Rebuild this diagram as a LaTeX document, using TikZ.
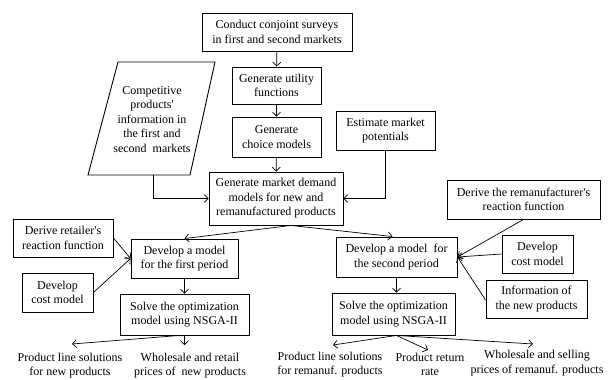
\documentclass[tikz,border=0pt]{standalone}
\usepackage{fontspec}
\setmainfont{Liberation Serif}[Ligatures=TeXOff]
\usetikzlibrary{arrows.meta,calc}
\begin{document}
\begin{tikzpicture}[x=1pt,y=-1pt,
  box/.style={draw,line width=0.9pt,inner sep=0pt,align=center,font=\fontsize{12}{14.5}\selectfont},
  txt/.style={inner sep=0pt,align=center,font=\fontsize{12}{14.5}\selectfont},
  arr/.style={line width=0.7pt,-{Straight Barb[length=4pt,width=8pt]}}]
\useasboundingbox (0,0) rectangle (611,380);
% nodes
\node[box,minimum width=150,minimum height=38] (conduct) at (277,32) {Conduct conjoint surveys\\in first and second markets};
\node[box,minimum width=89,minimum height=37] (utility) at (276.5,85.5) {Generate utility\\functions};
\node[box,minimum width=89,minimum height=40] (choice) at (276.5,137) {Generate\\choice models};
\draw[line width=0.9pt] (118,62) -- (215,62) -- (190,175) -- (88,175) -- cycle;
\coordinate (pb) at (153,175);
\node[txt] (comp) at (152,119.5) {Competitive\\products'\\information in\\the first and\\second~ markets};
\node[box,minimum width=99,minimum height=39] (estimate) at (385.5,130.5) {Estimate market\\potentials};
\node[box,minimum width=134,minimum height=53] (demand) at (276,198.5) {Generate market demand\\models for new and\\remanufactured products};
\node[box,minimum width=153,minimum height=39] (reman) at (523.5,199.5) {Derive the remanufacturer's\\reaction function};
\node[box,minimum width=100,minimum height=38] (retailer) at (63,238) {Derive retailer's\\reaction function};
\node[box,minimum width=71,minimum height=39] (costL) at (57.5,292.5) {Develop\\cost model};
\node[box,minimum width=107,minimum height=39] (first) at (184.5,258.5) {Develop a model\\for the first period};
\node[box,minimum width=129,minimum height=41] (solveA) at (184.5,314.5) {Solve the optimization\\model using NSGA-II};
\node[box,minimum width=121,minimum height=40] (second) at (396.5,257) {Develop a model~ for\\the second period};
\node[box,minimum width=123,minimum height=42] (solveB) at (393.5,314) {Solve the optimization\\model using NSGA-II};
\node[box,minimum width=71,minimum height=38] (costR) at (537.5,254) {Develop\\cost model};
\node[box,minimum width=101,minimum height=38] (info) at (536.5,299) {Information of\\the new products};
\node[txt] (o1) at (70,365.5) {Product line solutions\\for new products};
\node[txt] (o2) at (190,365.5) {Wholesale and retail\\prices of~ new products};
\node[txt] (o3) at (330,364.5) {Product line solutions\\for remanuf. products};
\node[txt] (o4) at (430,364.5) {Product return\\rate};
\node[txt] (o5) at (537,363) {Wholesale and selling\\prices of remanuf. products};
% arrow tips
\coordinate (t1) at (72,344);
\coordinate (t2) at (184.5,345);
\coordinate (t3) at (333,345);
\coordinate (t4) at (428,350);
\coordinate (t5) at (533,344);
\coordinate (ds) at ($(demand.south)+(15,0)$);
% connectors
\draw[arr] (conduct) -- (utility);
\draw[arr] (utility) -- (choice);
\draw[arr] (choice) -- (demand);
\draw[arr] (pb) |- (demand.west);
\draw[arr] (estimate.south) |- (demand.east);
\draw[arr] (ds) -- (first.north);
\draw[arr] (ds) -- ([xshift=-4]second.north);
\draw[arr] (retailer.east) -- (first.west);
\draw[arr] (costL.east) -- (first.west);
\draw[arr] (first) -- (solveA);
\draw[arr] ([xshift=-5]solveA.south) -- (t1);
\draw[arr] (solveA.south) -- (t2);
\draw[arr] (reman.south) -- (second.east);
\draw[arr] (costR.west) -- (second.east);
\draw[arr] ([yshift=-1]info.west) -- (second.east);
\draw[arr] (second.south) -- (second.south |- solveB.north);
\draw[arr] ([xshift=3]solveB.south) -- (t3);
\draw[arr] ([xshift=3]solveB.south) -- (t4);
\draw[arr] ([xshift=3]solveB.south) -- (t5);
\end{tikzpicture}
\end{document}
